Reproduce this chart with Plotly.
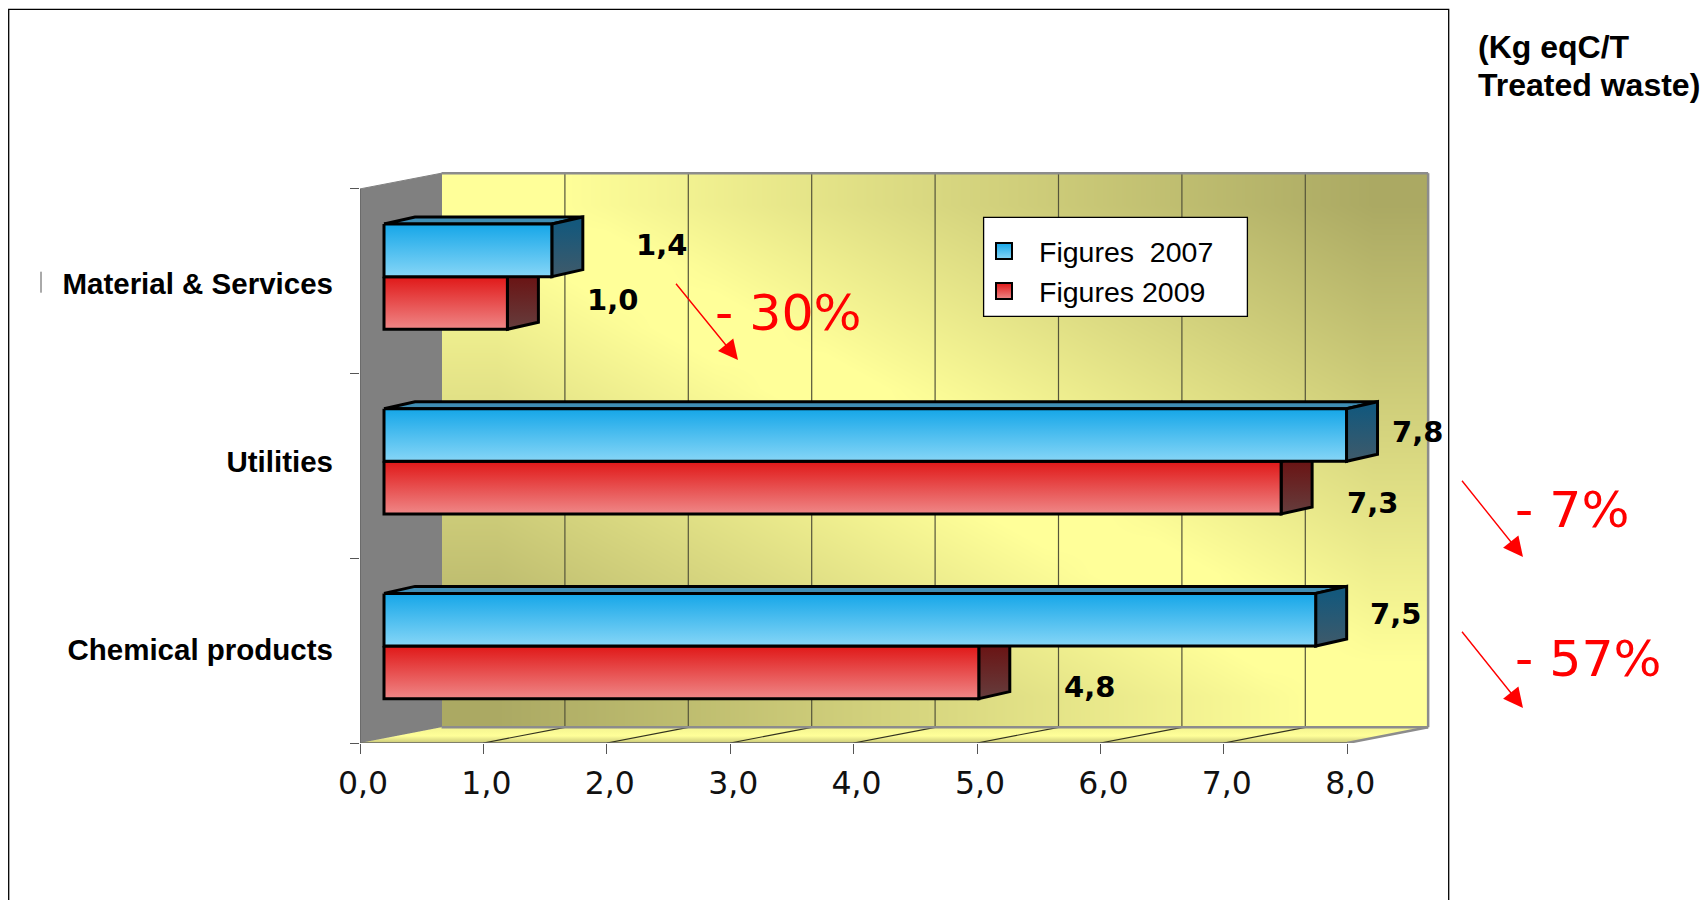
import plotly.graph_objects as go

categories = ["Chemical products", "Utilities", "Material & Services"]
figures_2007 = [7.55, 7.80, 1.36]
figures_2009 = [4.82, 7.27, 1.00]
labels_2007 = ["7,5", "7,8", "1,4"]
labels_2009 = ["4,8", "7,3", "1,0"]
x_ticks = [0, 1, 2, 3, 4, 5, 6, 7, 8]
x_ticktext = ["0,0", "1,0", "2,0", "3,0", "4,0", "5,0", "6,0", "7,0", "8,0"]
names = ["Figures  2007", "Figures 2009"]
changes = ["- 57%", "- 7%", "- 30%"]
unit_lines = ["(Kg eqC/T", "Treated waste)"]
wall_shade = [
    [1.000, 0.875, 0.750, 0.625, 0.500, 0.375, 0.250, 0.125, 0.000],
    [0.875, 0.750, 0.625, 0.500, 0.375, 0.250, 0.125, 0.000, 0.125],
    [0.750, 0.625, 0.500, 0.375, 0.250, 0.125, 0.000, 0.125, 0.250],
    [0.625, 0.500, 0.375, 0.250, 0.125, 0.000, 0.125, 0.250, 0.375],
    [0.500, 0.375, 0.250, 0.125, 0.000, 0.125, 0.250, 0.375, 0.500],
    [0.375, 0.250, 0.125, 0.000, 0.125, 0.250, 0.375, 0.500, 0.625],
    [0.250, 0.125, 0.000, 0.125, 0.250, 0.375, 0.500, 0.625, 0.750],
    [0.125, 0.000, 0.125, 0.250, 0.375, 0.500, 0.625, 0.750, 0.875],
    [0.000, 0.125, 0.250, 0.375, 0.500, 0.625, 0.750, 0.875, 1.000],
]

# --- layout geometry (pixels on the 1706x900 page)
W, H = 1706, 900
LEFT, RIGHT, TOP, BOTTOM = 360, 1430, 170, 743
PX_X, PX_Y = 123.4, 184.7
XMAX, YMAX = (RIGHT - LEFT) / PX_X, (BOTTOM - TOP) / PX_Y
DX, DY = 81.5 / PX_X, 15.7 / PX_Y        # depth of the chart box
BX, BY = 31 / PX_X, 7 / PX_Y             # depth of the bars
BAR0 = 24 / PX_X                         # bars start inside the depth of the box
BAR_TOP, BAR_H = 0.81, 0.285


def xp(px):
    return (px - LEFT) / (RIGHT - LEFT)


def yp(py):
    return (BOTTOM - py) / (BOTTOM - TOP)


def grad(c0, c1, start, stop, kind="vertical"):
    return dict(type=kind, start=start, stop=stop, colorscale=[[0, c0], [1, c1]])


def poly(xs, ys, color=None, gradient=None, line="black", width=3):
    kw = dict(fillgradient=gradient) if gradient else dict(fillcolor=color)
    return go.Scatter(x=list(xs) + [xs[0]], y=list(ys) + [ys[0]], mode="lines", fill="toself",
                      line=dict(color=line, width=width), hoverinfo="skip",
                      showlegend=False, cliponaxis=False, **kw)


def segs(pairs, color, width):
    xs, ys = [], []
    for (x0, y0, x1, y1) in pairs:
        xs += [x0, x1, None]
        ys += [y0, y1, None]
    return go.Scatter(x=xs, y=ys, mode="lines", line=dict(color=color, width=width),
                      hoverinfo="skip", showlegend=False, cliponaxis=False)


fig = go.Figure()

# back wall
n = len(wall_shade)
wall_w, wall_h = XMAX - 0.015 - DX, 3.0
fig.add_trace(go.Heatmap(
    z=wall_shade,
    x=[DX + (i + 0.5) * wall_w / n for i in range(n)],
    y=[DY + (i + 0.5) * wall_h / n for i in range(n)],
    colorscale=[[0, "#FFFF99"], [0.07, "#FFFF99"], [1, "#ABA963"]], zmin=0, zmax=1,
    zsmooth="best", showscale=False, hoverinfo="skip"))
wall_right = DX + wall_w

# side wall and floor
fig.add_trace(poly([0, DX, DX, 0], [3, 3 + DY, DY, 0], color="#808080", line="#808080", width=1))
fig.add_trace(poly([0, DX, wall_right, 8], [0, DY, DY, 0],
                   gradient=dict(type="vertical", start=DY, stop=0,
                                 colorscale=[[0, "#F4F490"], [0.55, "#FFFF99"], [1, "#C9C878"]]),
                   line="rgba(0,0,0,0)", width=0))

# grid
fig.add_trace(segs([(v + DX, DY, v + DX, 3 + DY) for v in x_ticks[1:-1]], "#55553a", 1.2))
fig.add_trace(segs([(v, 0, v + DX, DY) for v in x_ticks[1:-1]], "#33331f", 1.2))
fig.add_trace(segs([(DX, 3 + DY, wall_right, 3 + DY), (wall_right, 3 + DY, wall_right, DY),
                    (DX, DY, wall_right, DY), (wall_right, DY, 8, 0)], "#8C8C8C", 2.5))
fig.add_trace(segs([(0, 0, 8, 0), (0, 0, 0, 3)], "#666666", 1.6))

# bars
STYLE_2007 = dict(front=("#15A6E8", "#86D6F7"), top="#3F8DB4", side=("#14587C", "#3F5A6A"))
STYLE_2009 = dict(front=("#E01818", "#EF8787"), top="#9C3030", side=("#6A1414", "#653D3D"))


def bar(value, y_top, y_bot, style):
    x0, x1 = BAR0, BAR0 + value
    fig.add_trace(poly([x0, x0 + BX, x1 + BX, x1], [y_top, y_top + BY, y_top + BY, y_top], color=style["top"]))
    fig.add_trace(poly([x1, x1 + BX, x1 + BX, x1], [y_top, y_top + BY, y_bot + BY, y_bot],
                       gradient=grad(style["side"][0], style["side"][1], y_top, y_bot)))
    fig.add_trace(poly([x0, x1, x1, x0], [y_top, y_top, y_bot, y_bot],
                       gradient=grad(style["front"][0], style["front"][1], y_top, y_bot)))


for i, (v07, v09) in enumerate(zip(figures_2007, figures_2009)):
    top = i + BAR_TOP
    bar(v09, top - BAR_H, top - 2 * BAR_H, STYLE_2009)
    bar(v07, top, top - BAR_H, STYLE_2007)

# legend entries
for name, style in zip(names, (STYLE_2007, STYLE_2009)):
    fig.add_trace(go.Scatter(
        x=[None], y=[None], mode="markers", name=name,
        marker=dict(symbol="square", size=16, color=style["front"][0],
                    gradient=dict(type="vertical", color=style["front"][1]),
                    line=dict(color="black", width=2))))

ann = []


def text(px, py, s, size, family, color="black", anchor="center"):
    ann.append(dict(x=xp(px), y=yp(py), xref="paper", yref="paper", text=s, showarrow=False,
                    xanchor=anchor, yanchor="middle",
                    font=dict(size=size, family=family, color=color)))


def arrow(x0, y0, x1, y1):
    ann.append(dict(x=xp(x1), y=yp(y1), xref="paper", yref="paper", text=" ", showarrow=True,
                    ax=x0 - x1, ay=y0 - y1, axref="pixel", ayref="pixel",
                    arrowhead=2, arrowsize=2.8, arrowwidth=1.4, arrowcolor="#FF0000", standoff=0))


VERDANA = "DejaVu Sans"
ARIAL = "Liberation Sans"
label_px_2007 = [(1395, 614), (1417, 432), (661, 245)]
label_px_2009 = [(1089, 687), (1372, 503), (612, 300)]
for s, (px, py) in zip(labels_2007 + labels_2009, label_px_2007 + label_px_2009):
    text(px, py, "<b>%s</b>" % s, 29, VERDANA)

change_px = [(1513, 658), (1513, 509), (713, 312)]
for s, (px, py) in zip(changes, change_px):
    text(px, py, s, 50.5, VERDANA, color="#FF0000", anchor="left")
arrow(1459, 628, 1523, 708)
arrow(1459, 477, 1523, 557)
arrow(673, 280, 738, 360)

text(1476, 47, "<b>%s</b>" % unit_lines[0], 32, ARIAL, anchor="left")
text(1476, 85, "<b>%s</b>" % unit_lines[1], 32, ARIAL, anchor="left")

shapes = [
    # page frame (open at the foot of the page)
    dict(type="rect", xref="paper", yref="paper", x0=xp(8.7), x1=xp(1448.7), y0=yp(910), y1=yp(9.3),
         line=dict(color="black", width=1.3), layer="below"),
    # legend box
    dict(type="rect", xref="paper", yref="paper", x0=xp(983.6), x1=xp(1247.4), y0=yp(316.3), y1=yp(217.3),
         fillcolor="white", line=dict(color="black", width=1.3), layer="above"),
    # stray mark left of the first label
    dict(type="line", xref="paper", yref="paper", x0=xp(41), x1=xp(41), y0=yp(292.7), y1=yp(271.7),
         line=dict(color="#555555", width=1)),
]

fig.update_layout(
    width=W, height=H,
    margin=dict(l=LEFT, r=W - RIGHT, t=TOP, b=H - BOTTOM, pad=0),
    template="none",
    paper_bgcolor="white", plot_bgcolor="white",
    showlegend=True,
    legend=dict(x=xp(969), y=yp(226), xanchor="left", yanchor="top",
                bgcolor="rgba(0,0,0,0)", borderwidth=0, itemwidth=60,
                font=dict(size=28.5, family=ARIAL, color="black")),
    annotations=ann, shapes=shapes,
    xaxis=dict(range=[0, XMAX], tickmode="array", tickvals=x_ticks, ticktext=x_ticktext,
               ticks="outside", ticklen=10, tickwidth=1.2, tickcolor="#555555",
               ticklabelstandoff=2, ticklabelshift=3,
               showgrid=False, zeroline=False, showline=False,
               tickfont=dict(size=31.5, family=VERDANA, color="#111111")),
    yaxis=dict(range=[0, YMAX], tickmode="array",
               tickvals=[0.506, 1.523, 2.488],
               ticktext=["<b>%s</b>" % c for c in categories],
               ticks="", ticklabelstandoff=26,
               minor=dict(tickmode="array", tickvals=[0, 1, 2, 3], ticks="outside", ticklen=9,
                          tickwidth=1.2, tickcolor="#555555", showgrid=False),
               showgrid=False, zeroline=False, showline=False,
               tickfont=dict(size=29.5, family=ARIAL, color="black")),
)

fig.write_html("out.html", config={"displayModeBar": False},
               post_script="document.body.style.margin='0';document.body.style.overflow='hidden';")
